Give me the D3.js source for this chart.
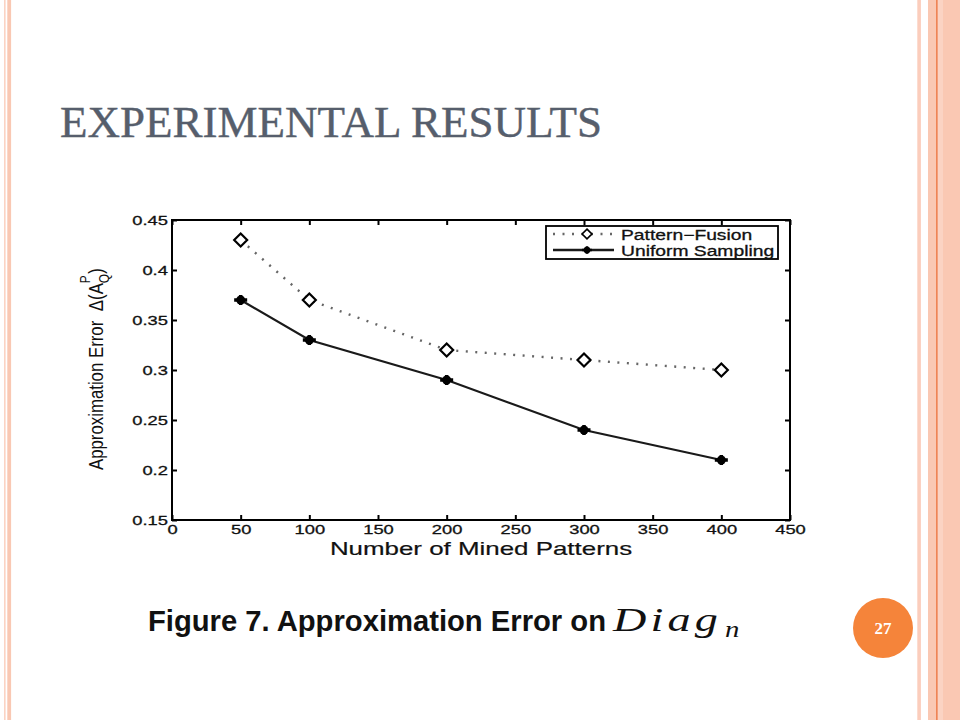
<!DOCTYPE html>
<html>
<head>
<meta charset="utf-8">
<script src="https://cdn.jsdelivr.net/npm/d3@7/dist/d3.min.js"></script>
<style>
  html, body { margin: 0; padding: 0; background: #ffffff; }
  svg { display: block; }
</style>
</head>
<body>
<svg id="slide" width="960" height="720"></svg>
<script>
// ---------- data ----------
const xValues = [50, 100, 200, 300, 400];
const patternFusion = [0.43, 0.37, 0.32, 0.31, 0.30];
const uniformSampling = [0.37, 0.33, 0.29, 0.24, 0.21];
const seriesNames = ["Pattern\u2212Fusion", "Uniform Sampling"];
const xTicks = [0, 50, 100, 150, 200, 250, 300, 350, 400, 450];
const yTicks = [0.15, 0.2, 0.25, 0.3, 0.35, 0.4, 0.45];
const yTickLabels = ["0.15", "0.2", "0.25", "0.3", "0.35", "0.4", "0.45"];
const titleText = "EXPERIMENTAL RESULTS";
const captionText = "Figure 7. Approximation Error on";
const pageNumber = "27";

(function () {
const svg = d3.select("#slide");

// ---------- slide decoration ----------
const stripes = [
  {x: 4, w: 1.6, c: "#fbd3c3"},
  {x: 7.3, w: 3.8, c: "#f9c8b3"},
  {x: 917.3, w: 3.6, c: "#fbcdbc"},
  {x: 928, w: 32, c: "#fac8b3"},
  {x: 938, w: 5, c: "#fbd3c3"},
  {x: 936, w: 1.6, c: "#ef8455"}
];
svg.selectAll("rect.stripe").data(stripes).enter().append("rect")
  .attr("class", "stripe")
  .attr("x", d => d.x).attr("y", 0).attr("width", d => d.w).attr("height", 720)
  .attr("fill", d => d.c);

svg.append("text")
  .attr("x", 60).attr("y", 137)
  .attr("font-family", "'Liberation Serif', 'DejaVu Serif', serif")
  .attr("font-size", 45)
  .attr("fill", "#565e6c")
  .attr("stroke", "#565e6c").attr("stroke-width", 0.4)
  .attr("textLength", 542).attr("lengthAdjust", "spacingAndGlyphs")
  .text(titleText);

// page number
svg.append("circle").attr("cx", 883).attr("cy", 628).attr("r", 30).attr("fill", "#f5843a");
svg.append("text").attr("x", 883).attr("y", 634)
  .attr("text-anchor", "middle")
  .attr("font-family", "'Liberation Serif', serif").attr("font-weight", "bold")
  .attr("font-size", 17).attr("fill", "#ffffff").text(pageNumber);

// ---------- chart ----------
const pLeft = 172, pRight = 790, pTop = 220, pBottom = 520;
const x = d3.scaleLinear().domain([0, 450]).range([pLeft, pRight]);
const y = d3.scaleLinear().domain([0.15, 0.45]).range([pBottom, pTop]);
const SX = 1.36; // horizontal stretch of chart text
const font = "'Liberation Sans', Arial, sans-serif";

const g = svg.append("g");

// axes (inward ticks)
const axB = g.append("g").attr("transform", `translate(0,${pBottom})`)
  .call(d3.axisBottom(x).tickValues(xTicks).tickSize(-5).tickPadding(4).tickFormat(d3.format("d")));
const axL = g.append("g").attr("transform", `translate(${pLeft},0)`)
  .call(d3.axisLeft(y).tickValues(yTicks).tickSize(-5).tickPadding(3)
    .tickFormat((d, i) => yTickLabels[i]));
const axT = g.append("g").attr("transform", `translate(0,${pTop})`)
  .call(d3.axisTop(x).tickValues(xTicks).tickSize(-5).tickFormat(""));
const axR = g.append("g").attr("transform", `translate(${pRight},0)`)
  .call(d3.axisRight(y).tickValues(yTicks).tickSize(-5).tickFormat(""));

[axB, axL, axT, axR].forEach(a => {
  a.select(".domain").remove();
  a.selectAll(".tick line").attr("stroke", "#000").attr("stroke-width", 2);
  a.selectAll(".tick text").attr("font-family", font).attr("font-size", 13.5)
    .attr("fill", "#111").attr("stroke", "#111").attr("stroke-width", 0.3);
});
axB.selectAll(".tick text").attr("transform", `scale(${SX},1)`);
axL.selectAll(".tick text").attr("transform", `scale(${SX},1)`);

g.append("rect").attr("x", pLeft).attr("y", pTop)
  .attr("width", pRight - pLeft).attr("height", pBottom - pTop)
  .attr("fill", "none").attr("stroke", "#000").attr("stroke-width", 2);

// series lines
const pfData = xValues.map((v, i) => ({x: v, y: patternFusion[i]}));
const usData = xValues.map((v, i) => ({x: v, y: uniformSampling[i]}));
const line = d3.line().x(d => x(d.x)).y(d => y(d.y));

g.append("path").datum(pfData).attr("d", line)
  .attr("fill", "none").attr("stroke", "#666").attr("stroke-width", 2.4)
  .attr("stroke-dasharray", "2,7.5");
g.append("path").datum(usData).attr("d", line)
  .attr("fill", "none").attr("stroke", "#1a1a1a").attr("stroke-width", 2.2);

const diamond = "M0,-6.5L6.5,0L0,6.5L-6.5,0Z";
function drawDiamond(sel) {
  sel.append("path").attr("d", diamond).attr("fill", "#fff")
    .attr("stroke", "#000").attr("stroke-width", 2.2);
}
function drawDot(sel) {
  sel.append("path").attr("d", "M-6.5,0H6.5M0,-5V5").attr("stroke", "#000").attr("stroke-width", 3.4);
  sel.append("circle").attr("r", 4.5).attr("fill", "#000");
}

g.selectAll("g.pf").data(pfData).enter().append("g").attr("class", "pf")
  .attr("transform", d => `translate(${x(d.x)},${y(d.y)})`).call(drawDiamond);
g.selectAll("g.us").data(usData).enter().append("g").attr("class", "us")
  .attr("transform", d => `translate(${x(d.x)},${y(d.y)})`).call(drawDot);

// legend
const lg = g.append("g");
lg.append("rect").attr("x", 546).attr("y", 226).attr("width", 232).attr("height", 33)
  .attr("fill", "#fff").attr("stroke", "#000").attr("stroke-width", 1.8);
lg.append("line").attr("x1", 553).attr("x2", 614).attr("y1", 234).attr("y2", 234)
  .attr("stroke", "#666").attr("stroke-width", 2.4).attr("stroke-dasharray", "2,7.5");
lg.append("g").attr("transform", "translate(587,234) scale(0.75)").call(drawDiamond);
lg.append("line").attr("x1", 553).attr("x2", 614).attr("y1", 250).attr("y2", 250)
  .attr("stroke", "#1a1a1a").attr("stroke-width", 2.4);
lg.append("g").attr("transform", "translate(587,250) scale(0.75)").call(drawDot);
[239.5, 255.5].forEach((yy, i) => {
  lg.append("text").attr("transform", `translate(621,${yy}) scale(1.33,1)`)
    .attr("font-family", font).attr("font-size", 14.5).attr("fill", "#111")
    .attr("stroke", "#111").attr("stroke-width", 0.3)
    .text(seriesNames[i]);
});

// x-axis title
g.append("text").attr("transform", `translate(481,555) scale(1.4,1)`)
  .attr("text-anchor", "middle").attr("font-family", font).attr("font-size", 18.5)
  .attr("fill", "#111").attr("stroke", "#111").attr("stroke-width", 0.2)
  .text("Number of Mined Patterns");

// y-axis title (rotated)
const yl = g.append("text").attr("transform", "translate(103,470) rotate(-90) scale(0.8,1)")
  .attr("font-family", font).attr("font-size", 21).attr("fill", "#111");
yl.append("tspan").text("Approximation Error");
yl.append("tspan").attr("dx", 12).text("\u0394(A");
yl.append("tspan").attr("dy", -13).attr("font-size", 15).text("P");
yl.append("tspan").attr("dx", -10).attr("dy", 19).attr("font-size", 15).text("Q");
yl.append("tspan").attr("dy", -6).text(")");

// caption
svg.append("text").attr("x", 148).attr("y", 631)
  .attr("font-family", font).attr("font-weight", "bold").attr("font-size", 30)
  .attr("fill", "#111").attr("textLength", 458).attr("lengthAdjust", "spacingAndGlyphs")
  .text(captionText);
svg.append("text").attr("transform", "translate(613,631) scale(1.4,1)")
  .attr("font-family", "'Liberation Serif', 'DejaVu Serif', serif").attr("font-style", "italic")
  .attr("font-size", 33).attr("fill", "#111")
  .attr("letter-spacing", 3)
  .text("Diag");
svg.append("text").attr("transform", "translate(725,637) scale(1.25,1)")
  .attr("font-family", "'Liberation Serif', 'DejaVu Serif', serif").attr("font-style", "italic")
  .attr("font-size", 23).attr("fill", "#111")
  .text("n");
})();
</script>
</body>
</html>
